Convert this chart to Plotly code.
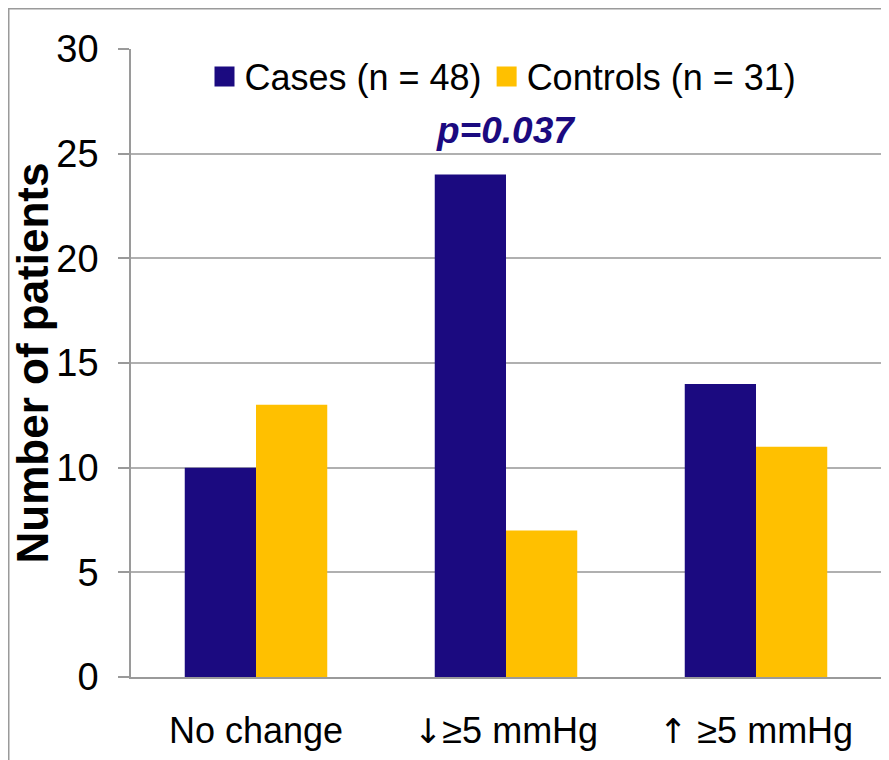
import plotly.graph_objects as go

categories = ["No change", "↓≥5 mmHg", "↑ ≥5 mmHg"]
cases = [10, 24, 14]
controls = [13, 7, 11]
series_names = ["Cases (n = 48)", "Controls (n = 31)"]
colors = ["#1B0A80", "#FFC000"]
y_ticks = [0, 5, 10, 15, 20, 25, 30]
p_text = "p=0.037"

ARIAL = "Liberation Sans, Arial, sans-serif"


def styled(label):
    out = ""
    for ch in label:
        if ch in "↑↓":
            out += '<span style="font-family:DejaVu Sans;font-size:34px">' + ch + "</span>"
        else:
            out += ch
    return out


fig = go.Figure()
for name, vals, col in zip(series_names, [cases, controls], colors):
    fig.add_trace(go.Bar(x=categories, y=vals, name=name, marker_color=col,
                         marker_line_width=0, showlegend=False))
    fig.add_trace(go.Scatter(x=[None], y=[None], mode="markers", name=name,
                             marker=dict(symbol="square", size=16, color=col,
                                         line=dict(color=col, width=4)),
                             showlegend=True))

fig.add_annotation(x=categories[1], y=max(cases), yshift=44, text="<b><i>" + p_text + "</i></b>",
                   showarrow=False, yanchor="middle",
                   font=dict(family=ARIAL, size=37, color="#1B0A80"))

fig.update_layout(
    width=889, height=760,
    margin=dict(l=123, r=16, t=41, b=91, autoexpand=False),
    paper_bgcolor="white", plot_bgcolor="white",
    bargap=0.43, bargroupgap=0,
    font=dict(family=ARIAL, size=36, color="black"),
    legend=dict(orientation="h", x=0.496, xanchor="center", y=1.004, yanchor="top",
                font=dict(family=ARIAL, size=36), itemwidth=30,
                bgcolor="rgba(0,0,0,0)", tracegroupgap=0),
    showlegend=True,
)
fig.update_xaxes(showline=True, linecolor="#9a9a9a", linewidth=1.5, ticks="",
                 automargin=False, tickvals=categories,
                 ticktext=[styled(c) for c in categories],
                 tickfont=dict(family=ARIAL, size=36), ticklabelstandoff=21)
fig.update_yaxes(range=[0, 30], tickvals=y_ticks, showgrid=True, gridcolor="#b0b0b0",
                 gridwidth=1.5, showline=True, linecolor="#9a9a9a", linewidth=1.5,
                 ticks="outside", ticklen=11, tickcolor="#9a9a9a", tickwidth=1.5,
                 automargin=False,
                 zeroline=False, tickfont=dict(family=ARIAL, size=38), ticklabelstandoff=12,
                 title=dict(text="<b>Number of patients</b>", standoff=25,
                            font=dict(family=ARIAL, size=44)))
fig.add_shape(type="rect", xref="paper", yref="paper", x0=-0.163, x1=1.2, y0=1.064, y1=-0.3,
              line=dict(color="#9a9a9a", width=1.5), fillcolor="rgba(0,0,0,0)", layer="below")

fig.write_html("out.html")
